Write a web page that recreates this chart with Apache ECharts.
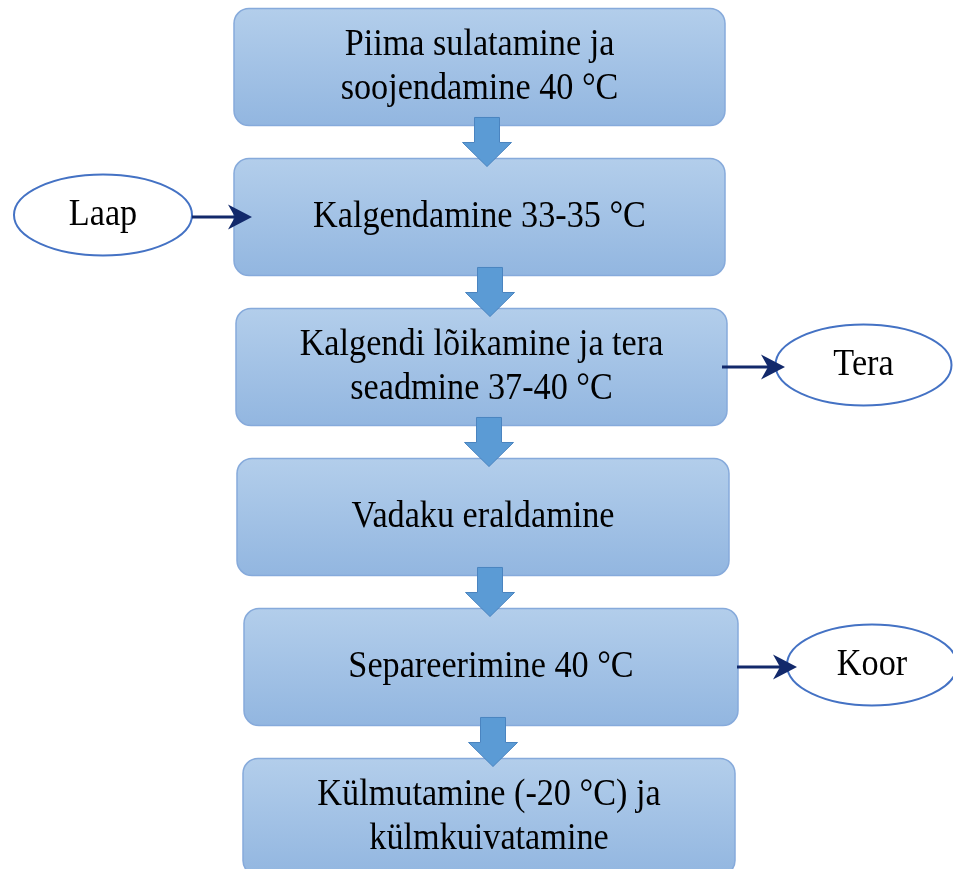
<!DOCTYPE html>
<html>
<head>
<meta charset="utf-8">
<script src="https://cdn.jsdelivr.net/npm/echarts@6/dist/echarts.min.js"></script>
<style>
  html, body { margin: 0; padding: 0; background: #fff; }
  #chart { width: 953px; height: 869px; }
</style>
</head>
<body>
<div id="chart"></div>
<script>
// process steps, top to bottom
var steps = [
    'Piima sulatamine ja\nsoojendamine 40 °C',
    'Kalgendamine 33-35 °C',
    'Kalgendi lõikamine ja tera\nseadmine 37-40 °C',
    'Vadaku eraldamine',
    'Separeerimine 40 °C',
    'Külmutamine (-20 °C) ja\nkülmkuivatamine'
];
// side inputs / outputs and the step they attach to
var sideLabels = ['Laap', 'Tera', 'Koor'];
var sideRows = [1, 2, 4];

// layout (pixels, x axis maps 1:1 to the page)
var boxLeft = [234, 234, 236, 237, 244, 243];
var boxRight = [725, 725, 727, 729, 738, 735];
var arrowX = [487, 490, 489, 490, 493];
var sideCx = [103, 863.5, 872];
var sideRx = [89, 88, 85];
var sideFrom = [192, 722, 737];
var sideTo = [252, 785, 797];
// row axis: one step = 150px, first row centred at 67px
var ROW_MIN = -67 / 150;
var ROW_MAX = ROW_MIN + 869 / 150;

var FONT = '"Liberation Serif", "Times New Roman", serif';

function textEl(x, y, str) {
    return {
        type: 'text',
        x: x, y: y,
        scaleX: 0.9,
        style: {
            text: str, x: 0, y: 0,
            fontSize: 38, fontFamily: FONT, fill: '#000',
            align: 'center', verticalAlign: 'middle', lineHeight: 44
        }
    };
}

var myChart = echarts.init(document.getElementById('chart'));

var option = {
    animation: false,
    grid: { left: 0, right: 0, top: 0, bottom: 0 },
    xAxis: { type: 'value', min: 0, max: 953, show: false },
    yAxis: { type: 'value', min: ROW_MIN, max: ROW_MAX, inverse: true, show: false },
    series: [
        {
            // process boxes
            type: 'custom',
            z: 2,
            clip: false,
            silent: true,
            data: steps.map(function (s, i) { return [0, i]; }),
            renderItem: function (params, api) {
                var i = api.value(1);
                var band = api.size([0, 1])[1];
                var h = band * 0.78;
                var p1 = api.coord([boxLeft[i], i]);
                var p2 = api.coord([boxRight[i], i]);
                return {
                    type: 'group',
                    children: [
                        {
                            type: 'rect',
                            shape: { x: p1[0], y: p1[1] - h / 2, width: p2[0] - p1[0], height: h, r: 15 },
                            style: {
                                fill: new echarts.graphic.LinearGradient(0, 0, 0, 1, [
                                    { offset: 0, color: '#b3ceeb' },
                                    { offset: 1, color: '#92b6e0' }
                                ]),
                                stroke: '#86aadb',
                                lineWidth: 1.5
                            }
                        },
                        textEl((p1[0] + p2[0]) / 2, p1[1], steps[i])
                    ]
                };
            }
        },
        {
            // block arrows between steps
            type: 'custom',
            z: 3,
            clip: false,
            silent: true,
            data: steps.slice(0, -1).map(function (s, i) { return [0, i]; }),
            renderItem: function (params, api) {
                var i = api.value(1);
                var band = api.size([0, 1])[1];
                var a = api.coord([arrowX[i], i]);
                var b = api.coord([arrowX[i], i + 1]);
                var mid = (a[1] + b[1]) / 2;
                var total = band * 0.327;
                var top = mid - total / 2;
                var x = a[0];
                var sw = 12.5, hw = 24.5, sh = total * 0.51;
                return {
                    type: 'polygon',
                    shape: {
                        points: [
                            [x - sw, top], [x + sw, top], [x + sw, top + sh], [x + hw, top + sh],
                            [x, top + total], [x - hw, top + sh], [x - sw, top + sh]
                        ]
                    },
                    style: { fill: '#5b9bd5', stroke: '#4a84c0', lineWidth: 1 }
                };
            }
        },
        {
            // side inputs and outputs
            type: 'custom',
            z: 4,
            clip: false,
            silent: true,
            data: sideLabels.map(function (s, k) { return [0, sideRows[k]]; }),
            renderItem: function (params, api) {
                var k = params.dataIndex;
                var row = api.value(1);
                var band = api.size([0, 1])[1];
                var c = api.coord([sideCx[k], row]);
                var f = api.coord([sideFrom[k], row]);
                var t = api.coord([sideTo[k], row]);
                var y = c[1];
                var tip = t[0];
                return {
                    type: 'group',
                    children: [
                        {
                            type: 'ellipse',
                            shape: { cx: c[0], cy: y - 2, rx: sideRx[k], ry: band * 0.27 },
                            style: { fill: '#fff', stroke: '#4472c4', lineWidth: 2 }
                        },
                        textEl(c[0], y - 2, sideLabels[k]),
                        {
                            type: 'line',
                            shape: { x1: f[0], y1: y, x2: tip - 15, y2: y },
                            style: { stroke: '#12296b', lineWidth: 3 }
                        },
                        {
                            type: 'polygon',
                            shape: {
                                points: [[tip, y], [tip - 24, y - 12.5], [tip - 17, y], [tip - 24, y + 12.5]]
                            },
                            style: { fill: '#12296b' }
                        }
                    ]
                };
            }
        }
    ]
};

myChart.setOption(option);
window.addEventListener('resize', function () { myChart.resize(); });
</script>
</body>
</html>
